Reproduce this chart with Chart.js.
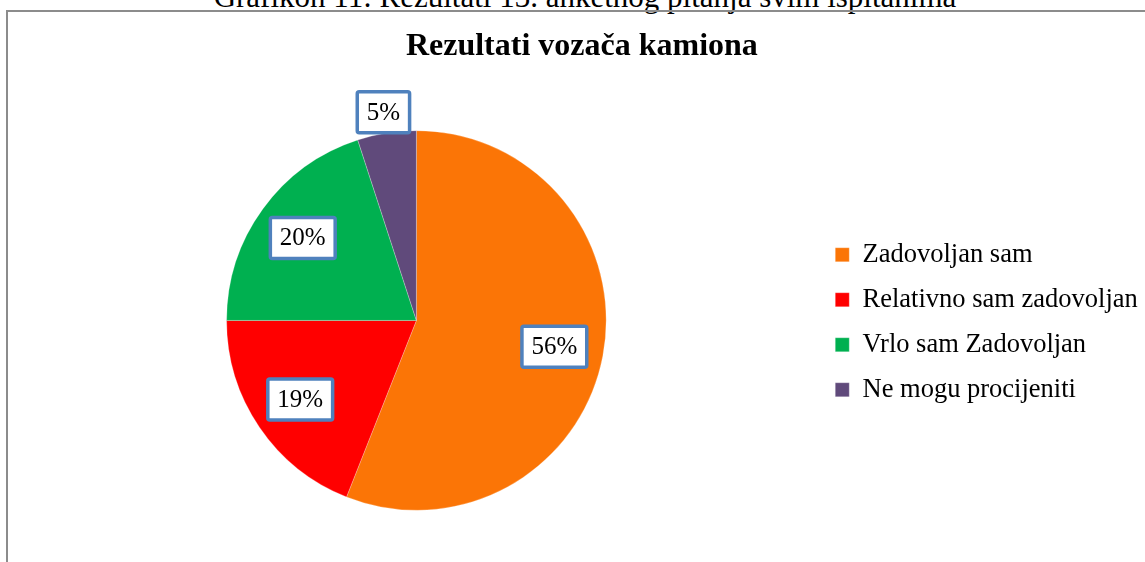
<!DOCTYPE html>
<html>
<head>
<meta charset="utf-8">
<script src="https://cdn.jsdelivr.net/npm/chart.js@4"></script>
<style>
  html, body { margin: 0; padding: 0; background: #fff; overflow: hidden; width: 1145px; height: 562px; }
  #caption {
    position: absolute; left: 0; top: -19px; width: 1170px; text-align: center;
    font: 31px "Liberation Serif", "Times New Roman", serif; line-height: 31px; color: #000;
    white-space: nowrap;
  }
  #frame {
    position: absolute; left: 6px; top: 10px; width: 1200px; height: 600px;
    border: 2px solid #8c8c8c; box-sizing: border-box;
  }
  #wrap { position: absolute; left: 0; top: 0; width: 1160px; height: 562px; }
</style>
</head>
<body>
<div id="caption">Grafikon 11: Rezultati 13. anketnog pitanja svim ispitanima</div>
<div id="frame"></div>
<div id="wrap"><canvas id="pieChart"></canvas></div>
<script>
// 图表数据
const categories = ['Zadovoljan sam', 'Relativno sam zadovoljan', 'Vrlo sam Zadovoljan', 'Ne mogu procijeniti'];
const percents = [56, 19, 20, 5];
const sliceColors = ['#fb7506', '#ff0000', '#00b050', '#604a7b'];

const FONT = '"Liberation Serif", "Times New Roman", serif';
Chart.defaults.font.family = FONT;
Chart.defaults.color = '#000';

// 数据标签：白底蓝框，小扇区放到外侧
const boxLabels = {
  id: 'boxLabels',
  afterDatasetsDraw(chart) {
    const ctx = chart.ctx;
    const meta = chart.getDatasetMeta(0);
    ctx.save();
    ctx.font = '25px ' + FONT;
    ctx.textAlign = 'center';
    ctx.textBaseline = 'middle';
    meta.data.forEach((arc, i) => {
      const p = arc.getProps(['x', 'y', 'startAngle', 'endAngle', 'outerRadius'], true);
      const mid = (p.startAngle + p.endAngle) / 2;
      const v = percents[i];
      const k = v < 10 ? 1.11 : 0.74;
      const cx = p.x + Math.cos(mid) * p.outerRadius * k;
      const cy = p.y + Math.sin(mid) * p.outerRadius * k;
      const text = v + '%';
      const w = ctx.measureText(text).width + 19;
      const h = 41;
      ctx.fillStyle = '#fff';
      ctx.strokeStyle = '#4f81bd';
      ctx.lineWidth = 3.5;
      ctx.beginPath();
      ctx.roundRect(cx - w / 2, cy - h / 2, w, h, 2);
      ctx.fill();
      ctx.stroke();
      ctx.fillStyle = '#000';
      ctx.fillText(text, cx, cy + 1);
    });
    ctx.restore();
  }
};

new Chart(document.getElementById('pieChart').getContext('2d'), {
  type: 'pie',
  data: {
    labels: categories,
    datasets: [{
      data: percents,
      backgroundColor: sliceColors,
      borderColor: 'rgba(255,255,255,0.5)',
      borderWidth: 0.5
    }]
  },
  options: {
    responsive: true,
    maintainAspectRatio: false,
    animation: false,
    layout: { padding: { left: 16, right: 12.25, top: 0, bottom: 51.5 } },
    plugins: {
      title: {
        display: true,
        text: 'Rezultati vozača kamiona',
        color: '#000',
        font: { size: 32, weight: 'bold', family: FONT },
        padding: { top: 28, bottom: 64 }
      },
      legend: {
        position: 'right',
        // 空标题只用来把图例往下推
        title: { display: true, text: ' ', font: { size: 10, lineHeight: 1 }, padding: { top: 124, bottom: 0 } },
        labels: {
          color: '#000',
          font: { size: 26.5, family: FONT },
          boxWidth: 14,
          boxHeight: 14,
          padding: 18.5
        }
      },
      tooltip: { enabled: false }
    }
  },
  plugins: [boxLabels]
});
</script>
</body>
</html>
